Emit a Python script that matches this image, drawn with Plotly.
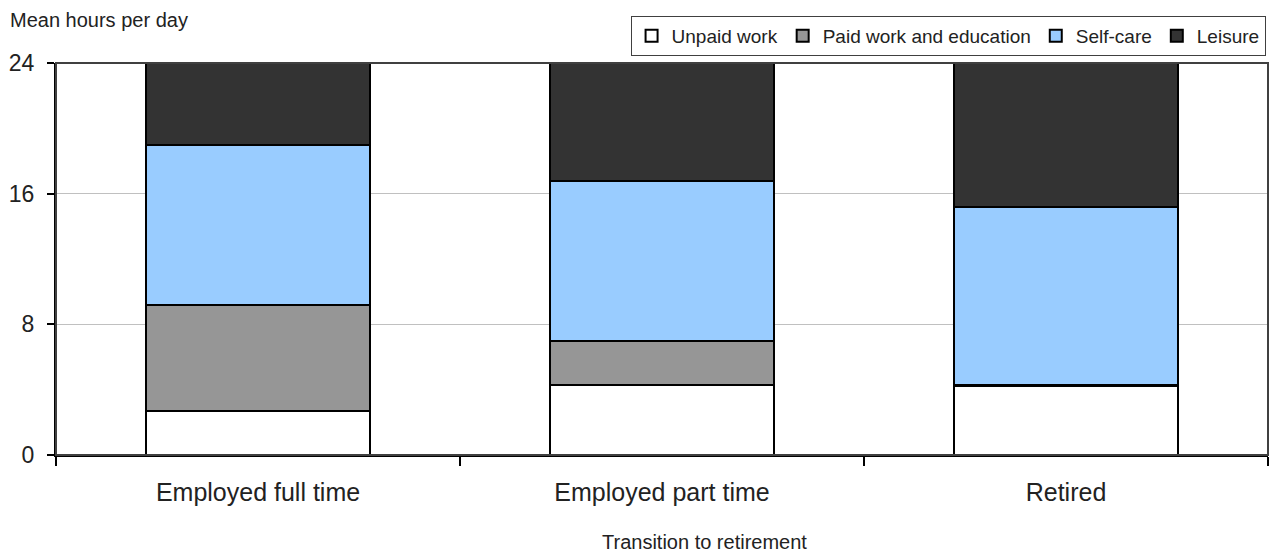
import plotly.graph_objects as go

# Time use across the transition to retirement (mean hours per day)
categories = ["Employed full time", "Employed part time", "Retired"]
unpaid_work = [2.7, 4.3, 4.2]
paid_work_education = [6.5, 2.7, 0.1]
self_care = [9.8, 9.8, 10.9]
leisure = [5.0, 7.2, 8.8]
y_ticks = [0, 8, 16, 24]

series = [
    ("Unpaid work", unpaid_work, "#ffffff"),
    ("Paid work and education", paid_work_education, "#969696"),
    ("Self-care", self_care, "#99ccff"),
    ("Leisure", leisure, "#333333"),
]

FONT = "Liberation Sans, Arial, sans-serif"

fig = go.Figure()
for name, values, color in series:
    fig.add_trace(go.Bar(
        name=name,
        x=categories,
        y=values,
        marker=dict(color=color, line=dict(color="#000000", width=2)),
    ))

fig.update_layout(
    width=1270,
    height=553,
    barmode="stack",
    bargap=0.445,
    plot_bgcolor="#ffffff",
    paper_bgcolor="#ffffff",
    margin=dict(l=56, r=2, t=63, b=98),
    font=dict(family=FONT, color="#222222"),
    legend=dict(
        orientation="h",
        x=0.998, xanchor="right",
        y=1.12, yanchor="top",
        bordercolor="#404040", borderwidth=1,
        font=dict(size=19, family=FONT, color="#222222"),
        traceorder="normal",
        itemclick=False,
    ),
    xaxis=dict(
        type="category",
        range=[-0.5, 2.5],
        showline=True, linecolor="#000000", linewidth=2,
        ticks="outside", ticklen=9, tickwidth=2, tickcolor="#000000",
        tickson="boundaries",
        tickfont=dict(size=25, family=FONT, color="#222222"),
        ticklabelstandoff=14,
        showgrid=False,
    ),
    yaxis=dict(
        range=[0, 24],
        tickvals=y_ticks,
        ticktext=[str(v) for v in y_ticks],
        showline=True, linecolor="#000000", linewidth=2,
        ticks="outside", ticklen=7, tickwidth=2, tickcolor="#000000",
        tickfont=dict(size=23, family=FONT, color="#222222"),
        ticklabelstandoff=8,
        showgrid=True, gridcolor="#c0c0c0", gridwidth=1,
        zeroline=False,
    ),
    shapes=[
        dict(type="rect", xref="paper", yref="paper", x0=0, x1=1, y0=0, y1=1,
             line=dict(color="#404040", width=2), layer="above"),
    ],
    annotations=[
        dict(text="Mean hours per day", xref="paper", yref="paper",
             x=-0.0396, y=1.11, xanchor="left", yanchor="middle",
             showarrow=False, font=dict(size=20, family=FONT, color="#222222")),
        dict(text="Transition to retirement", xref="paper", yref="paper",
             x=0.535, y=-0.222, xanchor="center", yanchor="middle",
             showarrow=False, font=dict(size=20, family=FONT, color="#222222")),
    ],
)

fig.write_html("out.html")
